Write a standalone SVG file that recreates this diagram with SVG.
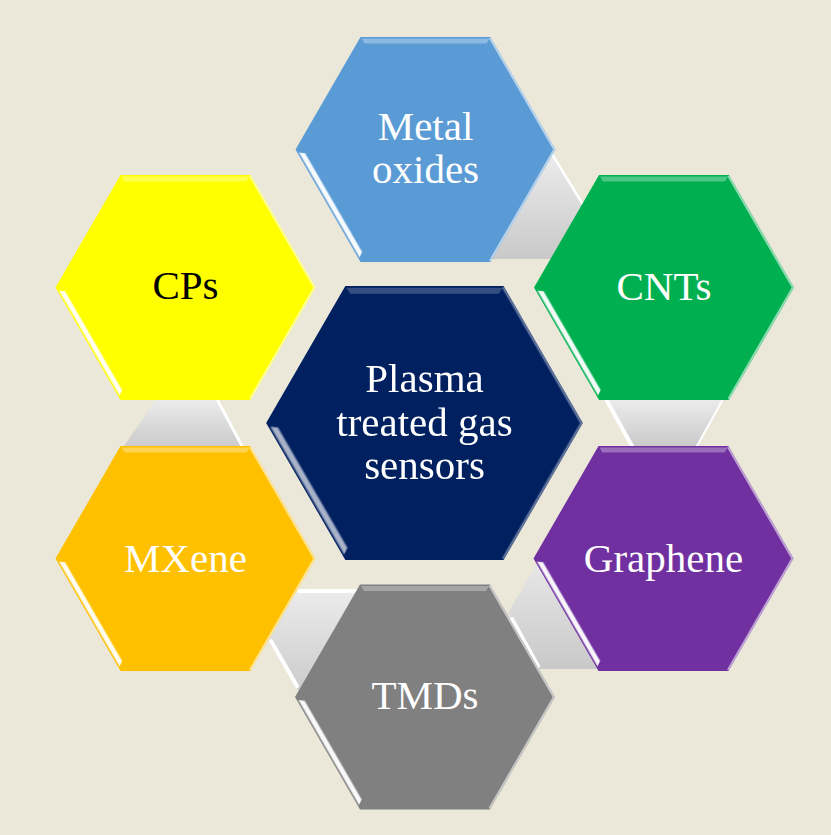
<svg xmlns="http://www.w3.org/2000/svg" xmlns:xlink="http://www.w3.org/1999/xlink" width="831" height="835" viewBox="0 0 831 835">
<style>
.lbl{font-family:"Liberation Serif","Times New Roman",serif;font-size:41px;fill:#ffffff;text-anchor:middle}
.dark{fill:#000000}
.gap{fill:url(#gg)}
.hl{stroke:#ffffff;stroke-linecap:round;fill:none}
</style>
<defs>
<linearGradient id="gg" x1="0" y1="0" x2="0" y2="1">
<stop offset="0" stop-color="#ececec"/>
<stop offset="1" stop-color="#c9c9c9"/>
</linearGradient>
<polygon id="hx" points="-130,0 -65,-112.5 65,-112.5 130,0 65,112.5 -65,112.5"/>
<g id="bev">
<polygon points="-64,-111 64,-111 61,-106 -61,-106" fill="#ffffff" opacity="0.3"/>
<polyline points="64.4,-111.5 128.8,0 64.4,111.5" fill="none" stroke="#ffffff" stroke-opacity="0.55" stroke-width="2"/>
<polygon points="-127.13,2.96 -66.13,108.62 -62.94,102.15 -119.94,3.43" fill="#ffffff" opacity="0.45"/>
<polygon points="-125.77,3.33 -65.77,107.25 -63.8,102.65 -120.8,3.93" fill="#ffffff" opacity="0.9"/>
</g>
</defs>
<rect width="831" height="835" fill="#ebe8d9"/>

<g id="connectors">
<polygon class="gap" points="552,152 617,259 488,259"/>
<line class="hl" x1="552" y1="154" x2="590" y2="216" stroke-width="2.5"/>
<polygon class="gap" points="605,399 724,399 696,448 632,448"/>
<line class="hl" x1="607" y1="401" x2="632" y2="446" stroke-width="4"/>
<line class="hl" x1="722" y1="401" x2="697" y2="446" stroke-width="2"/>
<polygon class="gap" points="548,545 508,613 539,669 605,669 605,545"/>
<line class="hl" x1="512" y1="619" x2="538" y2="666" stroke-width="4"/>
<polygon class="gap" points="292,589 362,589 362,700 298,690 265,636"/>
<line class="hl" x1="299" y1="591" x2="358" y2="591" stroke-width="4"/>
<line class="hl" x1="271" y1="641" x2="297" y2="686" stroke-width="4"/>
<polygon class="gap" points="156,399 218,399 245,449 122,449"/>
<line class="hl" x1="218" y1="401" x2="242" y2="446" stroke-width="3"/>
</g>

<g id="node-metal-oxides" transform="translate(425.5,149.5)">
<use xlink:href="#hx" fill="#5b9bd5"/>
<use xlink:href="#bev"/>
<text class="lbl" x="0" y="-9.5">Metal</text>
<text class="lbl" x="0" y="33.5">oxides</text>
</g>

<g id="node-cnts" transform="translate(664,287.5)">
<use xlink:href="#hx" fill="#00b050"/>
<use xlink:href="#bev"/>
<text class="lbl" x="0" y="12.5">CNTs</text>
</g>

<g id="node-graphene" transform="translate(663.5,558.5)">
<use xlink:href="#hx" fill="#7030a0"/>
<use xlink:href="#bev"/>
<text class="lbl" x="0" y="13.5">Graphene</text>
</g>

<g id="node-tmds" transform="translate(425,697)">
<use xlink:href="#hx" fill="#808080"/>
<use xlink:href="#bev"/>
<text class="lbl" x="0" y="12">TMDs</text>
</g>

<g id="node-mxene" transform="translate(185.5,558.5)">
<use xlink:href="#hx" fill="#ffc000"/>
<use xlink:href="#bev"/>
<text class="lbl" x="0" y="13.5">MXene</text>
</g>

<g id="node-cps" transform="translate(185.5,287.5)">
<use xlink:href="#hx" fill="#ffff00"/>
<use xlink:href="#bev"/>
<text class="lbl dark" x="0" y="11">CPs</text>
</g>

<g id="node-center" transform="translate(424.5,423)">
<use xlink:href="#hx" fill="#002060" transform="scale(1.218)"/>
<use xlink:href="#bev" transform="scale(1.218)" opacity="0.7"/>
<text class="lbl" x="0" y="-31">Plasma</text>
<text class="lbl" x="0" y="13">treated gas</text>
<text class="lbl" x="0" y="56">sensors</text>
</g>
</svg>
